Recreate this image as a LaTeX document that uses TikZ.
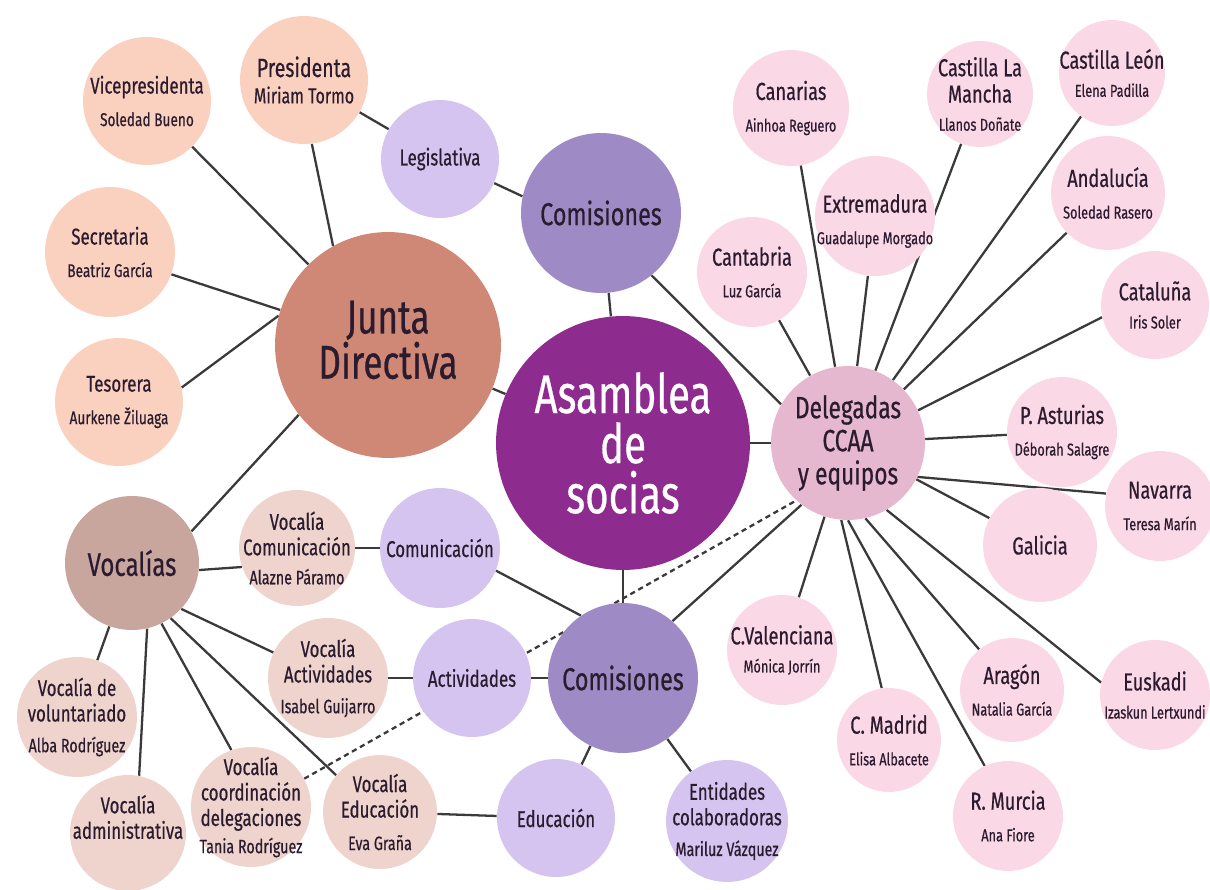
\documentclass[tikz,border=0pt]{standalone}
\usepackage{fontspec}
\setmainfont{Fira Sans}[FakeStretch=0.74,FakeBold=0.5]
\usetikzlibrary{backgrounds}
\definecolor{txt}{HTML}{2B1B2E}
\definecolor{lk}{HTML}{3A3A3A}
\definecolor{casm}{HTML}{8E2B8E}
\definecolor{cjd}{HTML}{D08876}
\definecolor{cjit}{HTML}{FAD0BE}
\definecolor{cvoc}{HTML}{C8A69E}
\definecolor{cvit}{HTML}{EED4CC}
\definecolor{ccom}{HTML}{9E8AC4}
\definecolor{clav}{HTML}{D6C4F0}
\definecolor{cdel}{HTML}{E6B8CF}
\definecolor{cpk}{HTML}{FAD8E6}
\newcommand\fz[2]{\fontsize{#1pt}{#2pt}\selectfont}
\newcommand\nj[1]{{\fz{10.5}{12}#1}}
\newcommand\nv[1]{{\fz{11}{12.5}#1}}
\newcommand\np[1]{{\fz{9.8}{11.5}#1}}
\tikzset{
  bub/.style={circle,inner sep=0pt,minimum size=#1*0.04cm},
  tx/.style={align=center,inner sep=0pt,text=txt,font=\fz{13}{14.5}},
  txp/.style={tx,font=\fz{14}{15}},
  asmc/.style={fill=casm},
  jdc/.style={fill=cjd},
  jit/.style={fill=cjit},
  vocc/.style={fill=cvoc},
  vit/.style={fill=cvit},
  comc/.style={fill=ccom},
  lav/.style={fill=clav},
  delc/.style={fill=cdel},
  pk/.style={fill=cpk},
  link/.style={draw=lk,line width=1.3pt},
  dlink/.style={draw=lk,line width=1.3pt,dash pattern=on 3pt off 2.2pt},
}
\begin{document}
\begin{tikzpicture}[x=0.02cm,y=-0.02cm]
\useasboundingbox (0,0) rectangle (1210,889);
% ---------- central
\node[bub=127,asmc] (asm) at (623,443) {};
\node[tx,text=white,font=\fz{31}{28.5}] (asm-t) at (asm) {Asamblea\\de\\socias};
\node[bub=113,jdc] (jd) at (388,345) {};
\node[tx,font=\fz{27}{22.5}] (jd-t) at ([yshift=0.1cm]jd) {Junta\\Directiva};
\node[bub=80,comc] (com1) at (601,213) {};
\node[tx,font=\fz{18}{19}] (com1-t) at (com1) {Comisiones};
\node[bub=75,comc] (com2) at (623,678) {};
\node[tx,font=\fz{18}{19}] (com2-t) at (com2) {Comisiones};
\node[bub=77,delc] (del) at (848,443) {};
\node[tx,font=\fz{17.5}{18.8}] (del-t) at (del) {Delegadas\\CCAA\\y equipos};
\node[bub=67,vocc] (voc) at (132,563) {};
\node[tx,font=\fz{18.5}{19}] (voc-t) at (voc) {Vocalías};
% ---------- junta items
\node[bub=64,jit] (pres) at (304,80) {};
\node[tx,font=\fz{15}{16}] (pres-t) at (pres) {Presidenta\\[-1pt]{\fz{12.3}{13}Miriam Tormo}};
\node[bub=64,jit] (vice) at (147,101) {};
\node[tx] (vice-t) at (vice) {Vicepresidenta\\[4pt]\nj{Soledad Bueno}};
\node[bub=65,jit] (sec) at (110,252) {};
\node[tx] (sec-t) at (sec) {Secretaria\\[4pt]\nj{Beatriz García}};
\node[bub=64,jit] (tes) at (119,402) {};
\node[tx] (tes-t) at (tes) {Tesorera\\[4pt]\nj{Aurkene Žiluaga}};
% ---------- lavender
\node[bub=59,lav] (leg) at (440,159) {};
\node[tx] (leg-t) at (leg) {Legislativa};
\node[bub=60,lav] (comu) at (440,548) {};
\node[tx] (comu-t) at (comu) {Comunicación};
\node[bub=59,lav] (act) at (472,678) {};
\node[tx] (act-t) at (act) {Actividades};
\node[bub=59,lav] (edu) at (556,818) {};
\node[tx] (edu-t) at (edu) {Educación};
\node[bub=61,lav] (ent) at (727,821) {};
\node[tx] (ent-t) at (ent) {Entidades\\colaboradoras\\[3pt]\nv{Mariluz Vázquez}};
% ---------- vocalia items
\node[bub=58,vit] (vcom) at (297,548) {};
\node[tx] (vcom-t) at (vcom) {Vocalía\\Comunicación\\[2pt]\nv{Alazne Páramo}};
\node[bub=60,vit] (vact) at (328,678) {};
\node[tx] (vact-t) at (vact) {Vocalía\\Actividades\\[3pt]\nv{Isabel Guijarro}};
\node[bub=60,vit] (volu) at (77,717) {};
\node[tx] (volu-t) at (volu) {Vocalía de\\voluntariado\\[3pt]\nv{Alba Rodríguez}};
\node[bub=58,vit] (adm) at (128,833) {};
\node[tx] (adm-t) at (128,817) {Vocalía\\administrativa};
\node[bub=60,vit] (coord) at (251,807) {};
\node[tx] (coord-t) at (coord) {Vocalía\\coordinación\\delegaciones\\[1pt]\nv{Tania Rodríguez}};
\node[bub=57,vit] (ved) at (380,812) {};
\node[tx] (ved-t) at (ved) {Vocalía\\Educación\\[4pt]\nv{Eva Graña}};
% ---------- pink regions
\node[bub=58,pk] (can) at (791,108) {};
\node[txp] (can-t) at (can) {Canarias\\[3pt]\np{Ainhoa Reguero}};
\node[bub=53,pk] (clm) at (980,94) {};
\node[txp] (clm-t) at (clm) {Castilla La\\Mancha\\[1pt]\np{Llanos Doñate}};
\node[bub=53,pk] (cle) at (1112,73) {};
\node[txp] (cle-t) at (cle) {Castilla León\\[1pt]\np{Elena Padilla}};
\node[bub=57,pk] (and) at (1108,193) {};
\node[txp] (and-t) at (and) {Andalucía\\[3pt]\np{Soledad Rasero}};
\node[bub=60,pk] (ext) at (875,216) {};
\node[txp] (ext-t) at ([yshift=-0.1cm]ext) {Extremadura\\[3pt]\np{Guadalupe Morgado}};
\node[bub=55,pk] (cant) at (752,272) {};
\node[txp] (cant-t) at (cant) {Cantabria\\[3pt]\np{Luz García}};
\node[bub=54,pk] (cat) at (1155,305) {};
\node[txp] (cat-t) at (cat) {Cataluña\\[1pt]\np{Iris Soler}};
\node[bub=55,pk] (ast) at (1062,432) {};
\node[txp] (ast-t) at (ast) {P. Asturias\\[3pt]\np{Déborah Salagre}};
\node[bub=55,pk] (nav) at (1160,506) {};
\node[txp] (nav-t) at (nav) {Navarra\\[3pt]\np{Teresa Marín}};
\node[bub=57,pk] (gal) at (1040,545) {};
\node[txp] (gal-t) at (gal) {Galicia};
\node[bub=55,pk] (cval) at (782,650) {};
\node[txp] (cval-t) at (cval) {C.Valenciana\\[1pt]\np{Mónica Jorrín}};
\node[bub=52,pk] (mad) at (889,740) {};
\node[txp] (mad-t) at (mad) {C. Madrid\\[3pt]\np{Elisa Albacete}};
\node[bub=52,pk] (ara) at (1012,690) {};
\node[txp] (ara-t) at (ara) {Aragón\\[3pt]\np{Natalia García}};
\node[bub=55,pk] (mur) at (1008,816) {};
\node[txp] (mur-t) at (mur) {R. Murcia\\[3pt]\np{Ana Fiore}};
\node[bub=55,pk] (eus) at (1155,695) {};
\node[txp] (eus-t) at (eus) {Euskadi\\[1pt]\np{Izaskun Lertxundi}};
\begin{pgfonlayer}{background}
\fill[white] (0,0) rectangle (1210,889);
% central links
\draw[link] (asm) -- (jd);
\draw[link] (asm) -- (com1);
\draw[link] (asm) -- (del);
\draw[link] (asm) -- (com2);
% junta
\draw[link] (pres.-83) -- (jd.119);
\draw[link] (vice) -- (jd);
\draw[link] (sec.-20) -- (jd.162);
\draw[link] (tes.13) -- (jd.165);
\draw[link] (jd.218) -- (voc.28);
\draw[link] (pres) -- (leg);
\draw[link] (leg.-24) -- (com1.168);
\draw[link] (com1.-51) -- (del.150);
% vocalias
\draw[link] (voc.-6) -- (vcom.199);
\draw[link] (voc.-43) -- (vact.155);
\draw[link] (voc) -- (volu);
\draw[link] (voc.-77) -- (adm.79);
\draw[link] (voc.-64) -- (coord.109);
\draw[link] (voc.-55) -- (ved.140);
\draw[link] (vcom) -- (comu);
\draw[link] (comu.-22) -- (com2.124);
\draw[link] (vact) -- (act);
\draw[link] (act) -- (com2);
\draw[link] (ved) -- (edu);
\draw[link] (edu) -- (com2);
\draw[link] (com2) -- (ent);
\draw[link] (com2.49) -- (del.233);
\draw[dlink] (coord.28) -- (del.228);
% delegadas
\draw[link] (del) -- (can);
\draw[link] (del) -- (cant);
\draw[link] (del) -- (ext);
\draw[link] (del) -- (clm);
\draw[link] (del) -- (cle);
\draw[link] (del) -- (and);
\draw[link] (del.25) -- (cat.193);
\draw[link] (del) -- (ast);
\draw[link] (del.-26) -- (nav.167);
\draw[link] (del) -- (gal);
\draw[link] (del.-60) -- (eus.167);
\draw[link] (del.-77) -- (ara.129);
\draw[link] (del.-90) -- (mur.115);
\draw[link] (del.-95) -- (mad.98);
\draw[link] (del) -- (cval);
\end{pgfonlayer}
\end{tikzpicture}
\end{document}
